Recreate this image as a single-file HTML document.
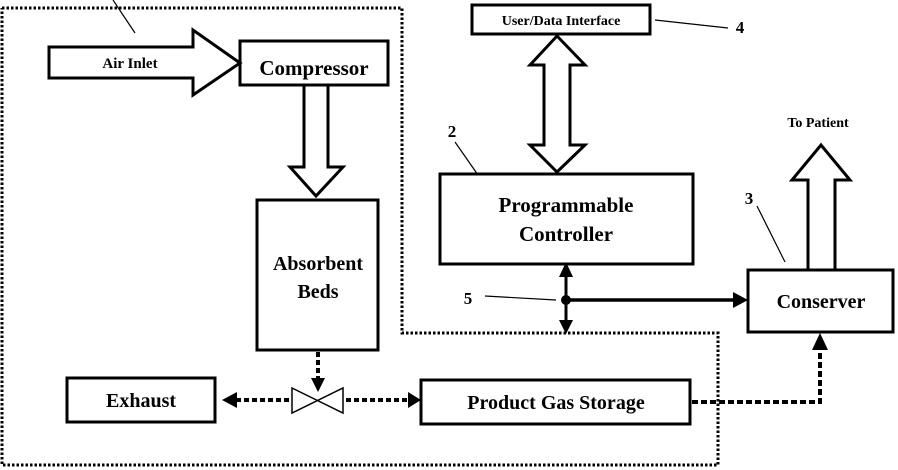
<!DOCTYPE html>
<html><head><style>
html,body{margin:0;padding:0;background:#fff;}
svg{display:block;}
text{font-family:"Liberation Serif",serif;font-weight:bold;fill:#000;}
</style></head><body>
<svg width="898" height="470" viewBox="0 0 898 470" xmlns="http://www.w3.org/2000/svg">
<g fill="none" stroke="#000">
<!-- dotted boundary -->
<polyline points="2,8 402,8 402,333 718,333 718,465 2,465 2,8" stroke-width="3" stroke-dasharray="2.5,2"/>
<line x1="113" y1="0" x2="135" y2="33" stroke-width="1.2"/>
<!-- air inlet arrow -->
<polygon points="49,47 193,47 193,30 240,63 193,95 193,78 49,78" stroke-width="3" fill="#fff"/>
<rect x="240" y="41" width="148" height="44" stroke-width="3"/>
<!-- compressor down arrow -->
<polygon points="304,85 328,85 328,167 343,167 316,196 290,167 304,167" stroke-width="3"/>
<rect x="257" y="200" width="121" height="150" stroke-width="3"/>
<!-- user interface -->
<rect x="472" y="5" width="178" height="29" stroke-width="3"/>
<line x1="655" y1="20" x2="728" y2="28" stroke-width="1.2"/>
<!-- double arrow -->
<polygon points="557,36 585,65 570,65 570,145 585,145 557,172 530,145 544,145 544,65 530,65" stroke-width="3"/>
<rect x="440" y="174" width="253" height="90" stroke-width="3"/>
<line x1="455" y1="142" x2="478" y2="175" stroke-width="1.2"/>
<line x1="757" y1="206" x2="785" y2="262" stroke-width="1.2"/>
<!-- to patient -->
<polygon points="808,270 808,180 792,180 821,145 850,180 835,180 835,270" stroke-width="3"/>
<rect x="748" y="270" width="145" height="62" stroke-width="3"/>
<!-- bus -->
<line x1="566" y1="272" x2="566" y2="325" stroke-width="3"/>
<line x1="566" y1="300" x2="736" y2="300" stroke-width="3.5"/>
<line x1="485" y1="296" x2="556" y2="300" stroke-width="1.2"/>
<!-- bottom boxes -->
<rect x="67" y="378" width="148" height="44" stroke-width="3"/>
<rect x="421" y="380" width="269" height="44" stroke-width="3"/>
<!-- valve -->
<polygon points="292,388 343,413 343,388 292,413" stroke-width="1.5" fill="#fff"/>
<!-- dotted flows -->
<line x1="318" y1="352" x2="318" y2="378" stroke-width="4" stroke-dasharray="5,3"/>
<line x1="236" y1="400" x2="290" y2="400" stroke-width="4" stroke-dasharray="5,3"/>
<line x1="346" y1="400" x2="408" y2="400" stroke-width="4" stroke-dasharray="5,3"/>
<polyline points="692,402 820,402 820,348" stroke-width="4" stroke-dasharray="6,3"/>
</g>
<g fill="#000">
<polygon points="311,378 325,378 318,392"/>
<polygon points="222,400 237,392 237,408"/>
<polygon points="421,400 408,392 408,408"/>
<polygon points="820,333 812,350 828,350"/>
<polygon points="566,262 559,277 573,277"/>
<polygon points="566,334 559,320 573,320"/>
<polygon points="748,300 733,292 733,308"/>
<circle cx="566" cy="300" r="5"/>
</g>
<text x="130" y="68" font-size="15" text-anchor="middle">Air Inlet</text>
<text x="314" y="75" font-size="21" text-anchor="middle">Compressor</text>
<text x="318" y="270" font-size="20" text-anchor="middle">Absorbent</text>
<text x="318" y="298" font-size="20" text-anchor="middle">Beds</text>
<text x="561" y="25" font-size="14" text-anchor="middle">User/Data Interface</text>
<text x="740" y="33" font-size="17" font-weight="normal" text-anchor="middle">4</text>
<text x="566" y="212" font-size="21" text-anchor="middle">Programmable</text>
<text x="566" y="241" font-size="21" text-anchor="middle">Controller</text>
<text x="452" y="137" font-size="17" font-weight="normal" text-anchor="middle">2</text>
<text x="749" y="204" font-size="17" font-weight="normal" text-anchor="middle">3</text>
<text x="818" y="127" font-size="14" text-anchor="middle">To Patient</text>
<text x="821" y="308" font-size="20" text-anchor="middle">Conserver</text>
<text x="468" y="304" font-size="17" font-weight="normal" text-anchor="middle">5</text>
<text x="141" y="407" font-size="20" text-anchor="middle">Exhaust</text>
<text x="556" y="409" font-size="20" text-anchor="middle">Product Gas Storage</text>
</svg>
</body></html>
